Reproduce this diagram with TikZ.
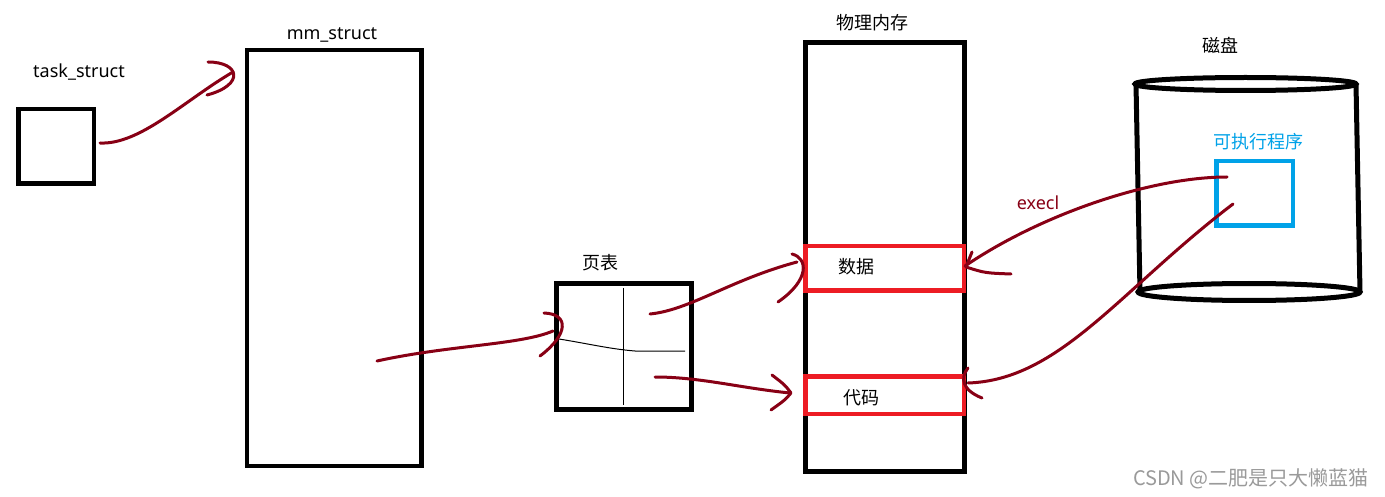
\documentclass[tikz,border=0pt]{standalone}
\usepackage{fontspec}
\setmainfont{Noto Sans}
\newfontfamily\cjk{Noto Sans CJK SC}
\definecolor{arrred}{HTML}{880015}
\definecolor{boxred}{HTML}{ED1C24}
\definecolor{boxblue}{HTML}{00A2E8}
\definecolor{wmgray}{HTML}{9A9A9A}
\begin{document}
\begin{tikzpicture}[x=1pt,y=-1pt,
  blackbox/.style={draw=black, line width=4.5pt, inner sep=0pt},
  redbox/.style={draw=boxred, line width=4.5pt, inner sep=0pt},
  bluebox/.style={draw=boxblue, line width=4.5pt, inner sep=0pt},
  lbl/.style={inner sep=0pt, font=\fontsize{18}{20}\selectfont},
  cjklbl/.style={inner sep=0pt, font=\cjk\fontsize{18}{20}\selectfont},
  arr/.style={draw=arrred, line width=3pt, line cap=round, line join=round},
  thin/.style={draw=black, line width=1pt}]
\fill[white] (0,0) rectangle (1385,497);
\useasboundingbox (0,0) rectangle (1385,497);

% boxes
\node[blackbox, minimum width=75.5pt, minimum height=74.5pt] (task) at (56,146.5) {};
\node[lbl] (tasklbl) at (79,72) {task\_struct};
\node[blackbox, minimum width=174.5pt, minimum height=415.5pt] (mm) at (334,258) {};
\node[lbl] (mmlbl) at (332,35) {mm\_struct};
\node[blackbox, line width=5pt, minimum width=135pt, minimum height=126pt] (pt) at (624,346.5) {};
\node[cjklbl] (ptlbl) at (600,263) {页表};
\node[blackbox, line width=5pt, minimum width=159pt, minimum height=429pt] (mem) at (885,257) {};
\node[cjklbl] (memlbl) at (872,23) {物理内存};
\node[redbox, minimum width=158.5pt, minimum height=44.5pt] (data) at (884.5,268.5) {};
\node[cjklbl] (datalbl) at (856,267) {数据};
\node[redbox, minimum width=158.5pt, minimum height=37.5pt] (code) at (884.5,395) {};
\node[cjklbl] (codelbl) at (861,398) {代码};

% page table inner lines
\draw[thin] (623,288) -- (623,405);
\draw[thin] (559,339) .. controls (590,344) and (610,349) .. (635,351) -- (685,351);

% disk
\draw[line width=5pt] (1136,84) -- (1140,292);
\draw[line width=5pt] (1356,84) -- (1360,292);
\draw[line width=5pt, fill=white] (1249,292) ellipse [x radius=111, y radius=8.5];
\draw[line width=5pt] (1245.5,84) ellipse [x radius=110.5, y radius=6.5];
\node[cjklbl] (disklbl) at (1220,45) {磁盘};
\node[bluebox, minimum width=76.5pt, minimum height=64.5pt] (exe) at (1254.5,193.5) {};
\node[cjklbl, text=boxblue] (exelbl) at (1258,142) {可执行程序};
\node[lbl, text=arrred] (execl) at (1038,203) {execl};

% connector end points
\coordinate (a1s) at (100,143);
\coordinate (a1e) at (233,72);
\coordinate (a2s) at (377,361);
\coordinate (a2e) at (553,331);
\coordinate (a3s) at (650,314);
\coordinate (a3e) at (797,262);
\coordinate (a4s) at (655,377);
\coordinate (a4e) at (790,393);
\coordinate (a5s) at (1227,177);
\coordinate (a5e) at (965,266);
\coordinate (a6s) at (1233,204);
\coordinate (a6e) at (968,383);

% connectors
\draw[arr] (a1s) .. controls (140,145) and (185,100) .. (a1e);
\draw[arr] (208,62) .. controls (240,62) and (245,85) .. (207,95);
\draw[arr] (a2s) .. controls (450,345) and (520,345) .. (a2e);
\draw[arr] (544,313) .. controls (570,314) and (568,335) .. (540,356);
\draw[arr] (a3s) .. controls (690,310) and (730,280) .. (a3e);
\draw[arr] (792,254) .. controls (808,258) and (810,280) .. (778,302);
\draw[arr] (a4s) .. controls (700,377) and (740,388) .. (a4e);
\draw[arr] (772,375) .. controls (785,385) .. (791,393) .. controls (785,400) .. (771,410);
\draw[arr] (a5s) .. controls (1150,177) and (1040,215) .. (a5e);
\draw[arr] (972,252) -- (966,267) .. controls (985,273) .. (1011,274);
\draw[arr] (a6s) .. controls (1120,290) and (1060,380) .. (a6e);
\draw[arr] (968,368) .. controls (960,378) and (962,390) .. (982,398);

% watermark
\node[inner sep=0pt, text=wmgray, font=\cjk\fontsize{20}{22}\selectfont, anchor=east] (wm) at (1369,479) {CSDN @二肥是只大懒蓝猫};
\end{tikzpicture}
\end{document}
